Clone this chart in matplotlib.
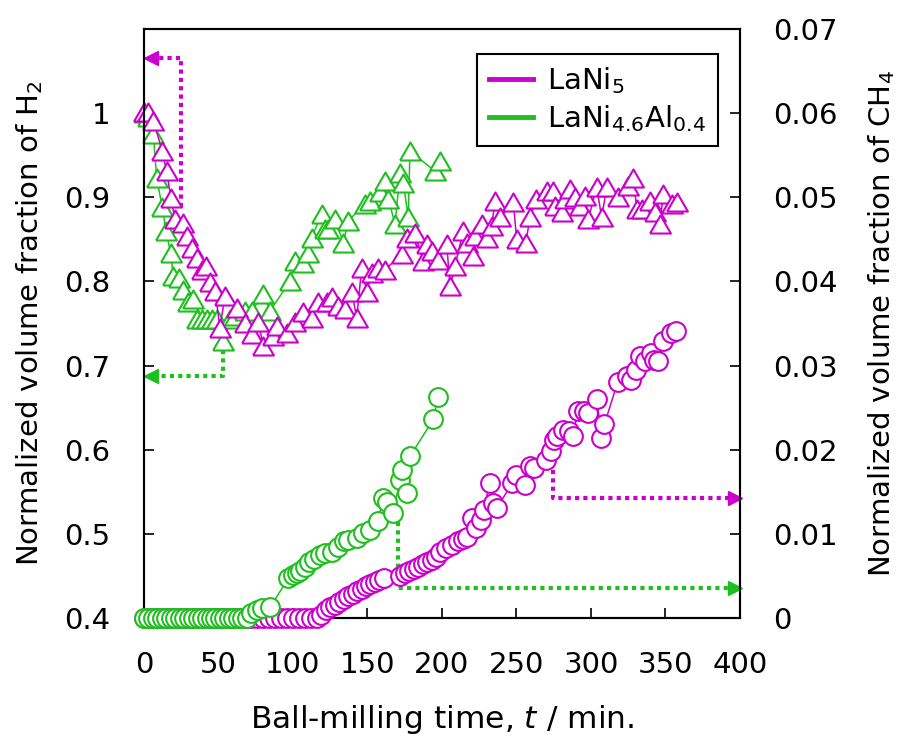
import matplotlib
matplotlib.use("Agg")
import matplotlib.pyplot as plt
from matplotlib.lines import Line2D
from matplotlib.ticker import FormatStrFormatter

plt.rcParams["font.family"] = ["DejaVu Sans"]
plt.rcParams["mathtext.default"] = "regular"

MAGENTA = "#cc00cc"
GREEN = "#1fbf1f"

# H2 volume fraction (left axis, triangles)
lani5_h2_t = [0, 2.9, 6.3, 12.3, 15.2, 18.1, 20.8, 26.4, 29.1, 32, 35.4, 38.7, 41.6, 44.3, 47.7, 51,
              54.4, 62.6, 67.8, 72.3, 76.7, 80.1, 86.8, 89.1, 95.8, 101.3, 106.9, 112.5, 117, 122.6,
              126, 130.4, 134.9, 139.4, 142.8, 146.1, 149.5, 152.8, 157.2, 161.7, 173, 176.3, 181.9,
              187.4, 189.7, 193.1, 197.5, 203.2, 205.4, 208.7, 214.3, 216.6, 221, 222.1, 226.6, 230,
              233.4, 235.6, 238.9, 247.9, 250.1, 256.2, 259.1, 263.1, 270.3, 274.7, 275.8, 280.3,
              282.6, 285.9, 289.3, 292.6, 296, 298.2, 303.8, 307.2, 310.5, 318.3, 325, 328.4, 330.7,
              334, 339.6, 343, 346.3, 348.5, 354.2, 357.5]
lani5_h2 = [1.001, 1.001, 0.991, 0.955, 0.931, 0.899, 0.874, 0.870, 0.854, 0.840, 0.828, 0.814,
            0.818, 0.799, 0.789, 0.745, 0.783, 0.769, 0.751, 0.737, 0.752, 0.723, 0.735, 0.747,
            0.739, 0.752, 0.764, 0.756, 0.776, 0.775, 0.782, 0.771, 0.767, 0.788, 0.757, 0.816,
            0.788, 0.810, 0.816, 0.814, 0.832, 0.852, 0.858, 0.824, 0.844, 0.836, 0.826, 0.844,
            0.794, 0.818, 0.860, 0.846, 0.830, 0.854, 0.868, 0.852, 0.866, 0.896, 0.876, 0.894,
            0.850, 0.846, 0.876, 0.898, 0.908, 0.908, 0.890, 0.882, 0.898, 0.910, 0.900, 0.890,
            0.902, 0.874, 0.912, 0.876, 0.912, 0.900, 0.913, 0.923, 0.886, 0.886, 0.896, 0.882,
            0.868, 0.904, 0.892, 0.894]

alloy_h2_t = [0, 3, 6.3, 8.5, 12.3, 14.8, 17.9, 19.7, 23.7, 26.4, 29.7, 33.1, 35.4, 38.7, 42.1,
              45.4, 48.8, 53.2, 57.7, 61.1, 67.8, 72.3, 80.1, 84.6, 98, 101.3, 106.9, 110.3, 112.5,
              119.3, 121.5, 123.7, 128.2, 133.8, 137.1, 148.3, 151.7, 158.4, 161.7, 164, 168.5,
              171.8, 174, 177.4, 178.5, 195.3, 198.7]
alloy_h2 = [1.0, 0.995, 0.975, 0.923, 0.888, 0.860, 0.834, 0.806, 0.804, 0.790, 0.775, 0.779,
            0.755, 0.755, 0.755, 0.755, 0.755, 0.729, 0.755, 0.759, 0.765, 0.765, 0.785, 0.765,
            0.800, 0.824, 0.822, 0.834, 0.852, 0.880, 0.862, 0.862, 0.874, 0.846, 0.872, 0.892,
            0.896, 0.906, 0.919, 0.898, 0.868, 0.929, 0.917, 0.876, 0.955, 0.931, 0.943]

# CH4 volume fraction (right axis, circles)
lani5_ch4_t = [0, 4, 8, 12, 16, 20, 24, 28, 32, 36, 40, 44, 48, 52, 56, 60, 64, 68, 72, 76, 80,
               84, 88, 92, 96, 100, 104, 108, 112, 116, 119, 122, 125, 128, 131, 134, 137, 140,
               143, 146, 149, 152, 155, 158, 161, 172, 175, 178, 181, 184, 187, 190, 193, 196,
               199, 203, 207, 211, 214, 217, 220, 223, 226, 228, 232, 234, 237, 247, 250, 256,
               259, 262, 270, 273, 275, 277, 281, 285, 288, 291, 295, 298, 304, 307, 309, 318,
               324, 327, 330, 333, 336, 340, 342, 345, 348, 354, 357]
lani5_ch4 = [0] * 30 + [0.0004, 0.0009, 0.0013, 0.0016, 0.0019, 0.0022, 0.0026, 0.0029, 0.0032,
                        0.0035, 0.0038, 0.0040, 0.0043, 0.0045, 0.0047, 0.0050, 0.0053, 0.0056,
                        0.0058, 0.0061, 0.0064, 0.0066, 0.0069, 0.0073, 0.0078, 0.0083, 0.0087,
                        0.0091, 0.0094, 0.0096, 0.0119, 0.0107, 0.0116, 0.0128, 0.0160, 0.0137,
                        0.0131, 0.0160, 0.0170, 0.0158, 0.0181, 0.0178, 0.0188, 0.0198, 0.0212,
                        0.0216, 0.0224, 0.0222, 0.0216, 0.0246, 0.0246, 0.0244, 0.0260, 0.0214,
                        0.0230, 0.0281, 0.0287, 0.0283, 0.0295, 0.0311, 0.0305, 0.0315, 0.0307,
                        0.0305, 0.0329, 0.0339, 0.0341]

alloy_ch4_t = [0, 3, 6, 9, 12, 15, 18, 21, 24, 27, 30, 33, 36, 39, 42, 45, 48, 51, 54, 57, 60,
               63, 66, 69, 72, 76, 79, 84.6, 97, 100, 103, 105, 108, 111, 114, 118, 121.5, 126,
               130, 134, 137, 143, 147, 152, 157, 160.6, 162.9, 167.3, 171.8, 173, 176.3, 178.5,
               194.2, 197.5]
alloy_ch4 = [0] * 24 + [0.0006, 0.0009, 0.0012, 0.0013, 0.0047, 0.0051, 0.0054, 0.0056, 0.0061,
                        0.0067, 0.0070, 0.0075, 0.0077, 0.0079, 0.0084, 0.0091, 0.0093, 0.0095,
                        0.0101, 0.0105, 0.0115, 0.0143, 0.0138, 0.0125, 0.0164, 0.0176, 0.0148,
                        0.0192, 0.0236, 0.0263]

x_ticks = [0, 50, 100, 150, 200, 250, 300, 350, 400]
h2_ticks = [0.4, 0.5, 0.6, 0.7, 0.8, 0.9, 1.0]
ch4_ticks = [0, 0.01, 0.02, 0.03, 0.04, 0.05, 0.06, 0.07]

FS = 21
tri = [(-1, -0.866), (1, -0.866), (0, 0.866), (-1, -0.866)]

fig = plt.figure(figsize=(9.02, 7.4), dpi=100)
ax = fig.add_axes([0.1596, 0.1649, 0.6608, 0.7959])
ax2 = ax.twinx()

tri_style = dict(marker=tri, ms=15, mfc="white", mew=1.5, lw=1.1, clip_on=False)
circ_style = dict(marker="o", ms=13.5, mfc="white", mew=1.5, lw=1.1, clip_on=False)

ax.plot(alloy_h2_t, alloy_h2, color=GREEN, mec=GREEN, zorder=3, **tri_style)
ax.plot(lani5_h2_t, lani5_h2, color=MAGENTA, mec=MAGENTA, zorder=4, **tri_style)
ax2.plot(lani5_ch4_t, lani5_ch4, color=MAGENTA, mec=MAGENTA, zorder=3, **circ_style)
ax2.plot(alloy_ch4_t, alloy_ch4, color=GREEN, mec=GREEN, zorder=4, **circ_style)

# dotted guide arrows pointing at the relevant axis
dot = dict(lw=3, ls=(0, (1, 1)), dash_capstyle="butt", clip_on=False)
ax.plot([25, 25, 6], [0.889, 1.065, 1.065], color=MAGENTA, **dot)
ax.plot([4.5], [1.065], marker="<", ms=10, color=MAGENTA, clip_on=False)
ax.plot([53, 53, 6], [0.719, 0.687, 0.687], color=GREEN, **dot)
ax.plot([4.5], [0.687], marker="<", ms=10, color=GREEN, clip_on=False)
ax2.plot([170.5, 170.5, 395], [0.0114, 0.0036, 0.0036], color=GREEN, **dot)
ax2.plot([396.5], [0.0036], marker=">", ms=10, color=GREEN, clip_on=False)
ax2.plot([274.5, 274.5, 395], [0.0176, 0.0143, 0.0143], color=MAGENTA, **dot)
ax2.plot([396.5], [0.0143], marker=">", ms=10, color=MAGENTA, clip_on=False)

ax.set_xlim(0, 400)
ax.set_ylim(0.4, 1.1)
ax2.set_ylim(0, 0.07)
ax.set_xticks(x_ticks)
ax.set_yticks(h2_ticks)
ax2.set_yticks(ch4_ticks)
ax.yaxis.set_major_formatter(FormatStrFormatter("%g"))
ax2.yaxis.set_major_formatter(FormatStrFormatter("%g"))

for a in (ax, ax2):
    for s in a.spines.values():
        s.set_linewidth(1.5)
ax.tick_params(axis="both", direction="in", length=7.5, width=1.2, labelsize=FS, pad=24,
               top=False, right=False)
ax2.tick_params(axis="y", direction="in", length=7.5, width=1.2, labelsize=FS, pad=24)

ax.set_xlabel("Ball-milling time, $\\mathit{t}$ / min.", fontsize=22.5)
ax.set_ylabel("Normalized volume fraction of H$_2$", fontsize=FS)
ax2.set_ylabel("Normalized volume fraction of CH$_4$", fontsize=FS)
ax.xaxis.set_label_coords(0.5, -0.145)
ax.yaxis.set_label_coords(-0.166, 0.5)
ax2.yaxis.set_label_coords(1.211, 0.5)

handles = [Line2D([], [], color=MAGENTA, lw=3.5), Line2D([], [], color=GREEN, lw=3.5)]
leg = ax.legend(handles, ["LaNi$_5$", "LaNi$_{4.6}$Al$_{0.4}$"], loc="upper right",
                bbox_to_anchor=(0.963, 0.958), borderaxespad=0, fontsize=FS, fancybox=False,
                framealpha=1, edgecolor="black", handlelength=1.5, handletextpad=0.5,
                labelspacing=0.25, borderpad=0.4)
leg.get_frame().set_linewidth(1.5)
leg.set_zorder(10)

fig.savefig("out.png", dpi=100)
